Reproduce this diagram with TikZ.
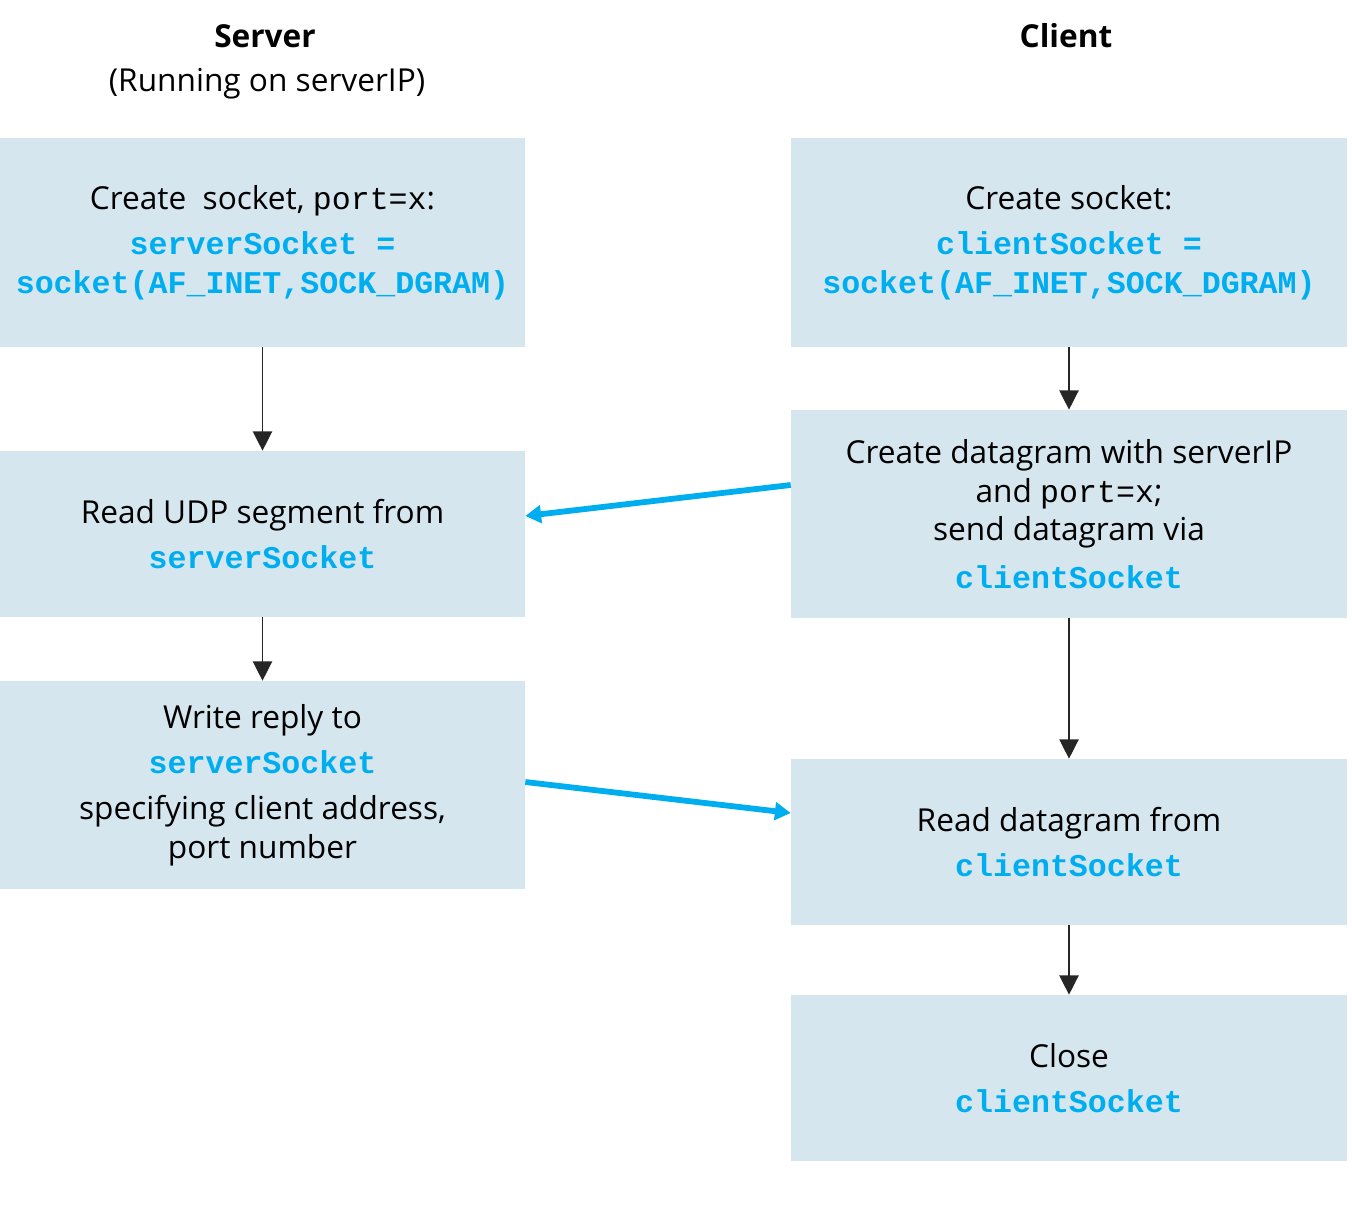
\documentclass[tikz,border=0pt]{standalone}
\usepackage{fontspec}
\setmainfont{Open Sans}
\newfontfamily\codefont{Liberation Mono}
\usetikzlibrary{arrows.meta}

\definecolor{udpblue}{HTML}{00AEEF}
\definecolor{boxfill}{HTML}{D5E6EF}
\newcommand{\sockname}[1]{{\codefont\bfseries\color{udpblue}#1}}
\newcommand{\plaincode}[1]{{\codefont #1}}

\begin{document}
\begin{tikzpicture}[x=0.02cm,y=-0.02cm,
    font=\fontsize{18}{22}\selectfont,
    stepbox/.style={fill=boxfill, align=center, inner sep=0pt},
    flow/.style={draw=black!85, line width=0.8pt, -{Triangle[width=11pt,length=11pt]}},
    msg/.style={draw=udpblue, line width=3.3pt, -{Triangle[width=10pt,length=9pt]}}
  ]
    \useasboundingbox (0,0) rectangle (1352,1209);

    % column headings
    \node[font=\fontsize{18}{22}\selectfont\bfseries] (srvhead) at (265,36) {Server};
    \node (srvnote) at (267,84) {(Running on serverIP)};
    \node[font=\fontsize{18}{22}\selectfont\bfseries] (clihead) at (1066,36) {Client};

    % server side
    \node[stepbox, minimum width=10.5cm, minimum height=4.18cm] (sa) at (262.5,242.5)
        {Create\ \ socket, \plaincode{port=x}:\\[4pt]
         \sockname{serverSocket =}\\
         \sockname{socket(AF\_INET,SOCK\_DGRAM)}};
    \node[stepbox, minimum width=10.5cm, minimum height=3.32cm] (sb) at (262.5,534)
        {Read UDP segment from\\[4pt] \sockname{serverSocket}};
    \node[stepbox, minimum width=10.5cm, minimum height=4.16cm] (sc) at (262.5,785)
        {Write reply to\\[4pt] \sockname{serverSocket}\\[4pt]
         specifying client address,\\ port number};

    % client side
    \node[stepbox, minimum width=11.12cm, minimum height=4.18cm] (ca) at (1069,242.5)
        {Create socket:\\[4pt]
         \sockname{clientSocket =}\\
         \sockname{socket(AF\_INET,SOCK\_DGRAM)}};
    \node[stepbox, minimum width=11.12cm, minimum height=4.16cm] (cb) at (1069,514)
        {Create datagram with serverIP\\ and \plaincode{port=x};\\
         send datagram via\\[5pt] \sockname{clientSocket}};
    \node[stepbox, minimum width=11.12cm, minimum height=3.32cm] (cc) at (1069,842)
        {Read datagram from\\[4pt] \sockname{clientSocket}};
    \node[stepbox, minimum width=11.12cm, minimum height=3.32cm] (cd) at (1069,1078)
        {Close\\[4pt] \sockname{clientSocket}};

    \coordinate (sendfrom) at ([yshift=0.58cm]cb.west);
    \coordinate (sendto) at ([yshift=0.36cm]sb.east);
    \coordinate (replyfrom) at ([yshift=0.06cm]sc.east);
    \coordinate (replyto) at ([yshift=0.58cm]cc.west);

    \draw[flow] (sa) -- (sb);
    \draw[flow] (sb) -- (sc);
    \draw[flow] (ca) -- (cb);
    \draw[flow] (cb) -- (cc);
    \draw[flow] (cc) -- (cd);
    \draw[msg] (sendfrom) -- (sendto);
    \draw[msg] (replyfrom) -- (replyto);
\end{tikzpicture}
\end{document}
